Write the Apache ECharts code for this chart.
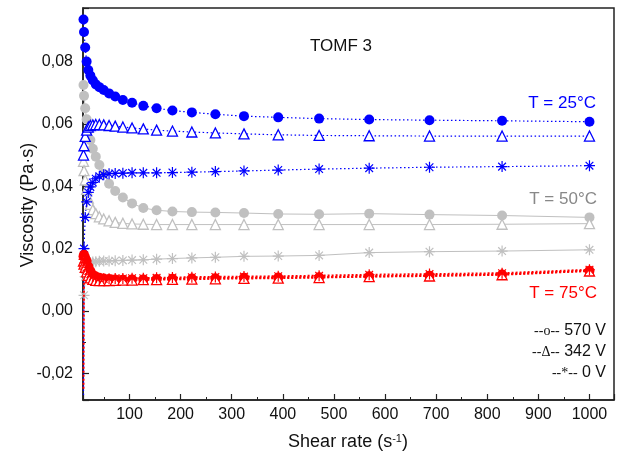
<!DOCTYPE html>
<html>
<head>
<meta charset="utf-8">
<script src="https://cdn.jsdelivr.net/npm/echarts@6/dist/echarts.min.js"></script>
<style>
  html, body { margin: 0; padding: 0; background: #fff; }
  #chart { width: 625px; height: 459px; }
</style>
</head>
<body>
<div id="chart"></div>
<script>
// shear rate (s-1), shared by every curve
const shearRate = [10, 11, 13.3, 16.1, 19.4, 23.4, 28.2, 34, 41, 49.5, 60, 72, 87, 105, 127, 153, 184, 222, 268, 324, 391, 471, 569, 687, 829, 1000];

// T = 25 °C
const blue570 = [0.0935, 0.0895, 0.0845, 0.0800, 0.0773, 0.0755, 0.0740, 0.0727, 0.0718, 0.0709, 0.0698, 0.0688, 0.0677, 0.0668, 0.0658, 0.0650, 0.0643, 0.0637, 0.0631, 0.0625, 0.0621, 0.0617, 0.0614, 0.0612, 0.0610, 0.0607];
const blue342 = [0.0500, 0.0530, 0.0560, 0.0580, 0.0590, 0.0595, 0.0597, 0.0598, 0.0598, 0.0597, 0.0595, 0.0593, 0.0590, 0.0587, 0.0584, 0.0580, 0.0577, 0.0574, 0.0571, 0.0568, 0.0565, 0.0563, 0.0562, 0.0561, 0.0561, 0.0561];
const blue0 = [-0.0270, 0.0200, 0.0300, 0.0350, 0.0380, 0.0398, 0.0412, 0.0424, 0.0432, 0.0437, 0.0440, 0.0441, 0.0442, 0.0443, 0.0443, 0.0443, 0.0444, 0.0445, 0.0447, 0.0449, 0.0452, 0.0455, 0.0458, 0.0461, 0.0463, 0.0466];

// T = 50 °C
const gray570 = [0.0725, 0.0690, 0.0650, 0.0615, 0.0580, 0.0548, 0.0520, 0.0495, 0.0468, 0.0440, 0.0408, 0.0385, 0.0364, 0.0345, 0.0330, 0.0323, 0.0319, 0.0317, 0.0316, 0.0314, 0.0311, 0.0310, 0.0312, 0.0309, 0.0306, 0.0300];
const gray342 = [0.0480, 0.0450, 0.0420, 0.0390, 0.0362, 0.0342, 0.0325, 0.0312, 0.0302, 0.0295, 0.0289, 0.0284, 0.0281, 0.0279, 0.0278, 0.0277, 0.0277, 0.0277, 0.0277, 0.0277, 0.0277, 0.0277, 0.0277, 0.0277, 0.0278, 0.0280];
const gray0 = [-0.0080, 0.0050, 0.0110, 0.0140, 0.0150, 0.0155, 0.0157, 0.0158, 0.0159, 0.0160, 0.0160, 0.0161, 0.0162, 0.0163, 0.0164, 0.0166, 0.0168, 0.0170, 0.0172, 0.0175, 0.0176, 0.0178, 0.0187, 0.0190, 0.0192, 0.0196];

// T = 75 °C
const red570 = [0.0175, 0.0180, 0.0170, 0.0160, 0.0142, 0.0128, 0.0116, 0.0110, 0.0106, 0.0104, 0.0102, 0.0101, 0.0100, 0.0101, 0.0101, 0.0102, 0.0103, 0.0104, 0.0105, 0.0106, 0.0107, 0.0108, 0.0111, 0.0113, 0.0117, 0.0129];
const red342 = [0.0160, 0.0150, 0.0140, 0.0125, 0.0114, 0.0106, 0.0101, 0.0098, 0.0097, 0.0097, 0.0097, 0.0098, 0.0099, 0.0099, 0.0100, 0.0100, 0.0101, 0.0102, 0.0103, 0.0104, 0.0105, 0.0107, 0.0110, 0.0112, 0.0116, 0.0128];
const red0 = [-0.0250, 0.0165, 0.0155, 0.0140, 0.0128, 0.0118, 0.0110, 0.0106, 0.0104, 0.0103, 0.0103, 0.0104, 0.0104, 0.0105, 0.0105, 0.0106, 0.0107, 0.0108, 0.0109, 0.0110, 0.0111, 0.0113, 0.0116, 0.0118, 0.0121, 0.0132];

const BLUE = '#0000ff';
const GRAY = '#c0c0c0';
const RED = '#ff0000';
const FONT = 'Arial, "Liberation Sans", sans-serif';
const ASTERISK = 'path://M5,0L5,10M0,5L10,5M1.5,1.5L8.5,8.5M1.5,8.5L8.5,1.5';

function makeSeries(values, color, kind, line) {
  const size = kind === 'asterisk' ? 11 : 10;
  const s = {
    type: 'line',
    data: shearRate.map((x, i) => [x, values[i]]),
    showAllSymbol: true,
    animation: false,
    // the first low-shear readings only show up as a trace along the axis
    symbolSize: (v) => (v[1] < 0 ? 0 : size),
    lineStyle: { color: color, width: line.width, type: line.type },
    z: line.z || 2,
  };
  if (kind === 'circle') {
    s.symbol = 'circle';
    s.itemStyle = { color: color, borderWidth: 0 };
  } else if (kind === 'triangle') {
    s.symbol = 'triangle';
    s.itemStyle = { color: '#fff', borderColor: color, borderWidth: 1.3 };
  } else {
    s.symbol = ASTERISK;
    s.itemStyle = { color: color, borderColor: color, borderWidth: 1.2 };
  }
  return s;
}

const dotted = { width: 1.2, type: [1.5, 2.5] };
const solid = { width: 1, type: 'solid' };
const redDot = { width: 2, type: [2, 2], z: 3 };

const chart = echarts.init(document.getElementById('chart'));
chart.setOption({
  backgroundColor: '#fff',
  animation: false,
  grid: {
    left: 83, right: 11, top: 8, bottom: 59,
    show: true, borderColor: '#222', borderWidth: 1.5,
  },
  xAxis: {
    type: 'value',
    min: 9,
    max: 1048,
    splitNumber: 10,
    axisLine: { show: true, onZero: false, lineStyle: { color: '#222', width: 1.5 } },
    axisTick: { inside: true, length: 6, lineStyle: { color: '#222', width: 1.2 } },
    minorTick: { show: true, splitNumber: 2, length: 3, lineStyle: { color: '#222', width: 1 } },
    splitLine: { show: false },
    axisLabel: {
      margin: 7, color: '#111', fontSize: 16, fontFamily: FONT,
      showMinLabel: false, showMaxLabel: false,
      formatter: (v) => String(v),
    },
  },
  yAxis: {
    type: 'value',
    min: -0.0286,
    max: 0.0972,
    splitNumber: 6,
    axisLine: { show: true, onZero: false, lineStyle: { color: '#222', width: 1.5 } },
    axisTick: { inside: true, length: 6, lineStyle: { color: '#222', width: 1.2 } },
    minorTick: { show: true, splitNumber: 2, length: 3, lineStyle: { color: '#222', width: 1 } },
    splitLine: { show: false },
    axisLabel: {
      margin: 10, color: '#111', fontSize: 16, fontFamily: FONT,
      showMinLabel: false, showMaxLabel: false,
      formatter: (v) => v.toFixed(2).replace('.', ','),
    },
  },
  series: [
    makeSeries(gray570, GRAY, 'circle', solid),
    makeSeries(gray342, GRAY, 'triangle', solid),
    makeSeries(gray0, GRAY, 'asterisk', solid),
    makeSeries(blue570, BLUE, 'circle', dotted),
    makeSeries(blue342, BLUE, 'triangle', dotted),
    makeSeries(blue0, BLUE, 'asterisk', dotted),
    makeSeries(red570, RED, 'circle', redDot),
    makeSeries(red342, RED, 'triangle', redDot),
    makeSeries(red0, RED, 'asterisk', redDot),
  ],
  graphic: [
    {
      type: 'text', x: 341, y: 46,
      style: { text: 'TOMF 3', fill: '#111', font: '17px ' + FONT, align: 'center', verticalAlign: 'middle' },
    },
    {
      type: 'text', x: 596, y: 103,
      style: { text: 'T = 25°C', fill: BLUE, font: '17px ' + FONT, align: 'right', verticalAlign: 'middle' },
    },
    {
      type: 'text', x: 597, y: 199,
      style: { text: 'T = 50°C', fill: '#888', font: '17px ' + FONT, align: 'right', verticalAlign: 'middle' },
    },
    {
      type: 'text', x: 597, y: 293,
      style: { text: 'T = 75°C', fill: RED, font: '17px ' + FONT, align: 'right', verticalAlign: 'middle' },
    },
    {
      type: 'text', x: 606, y: 331,
      style: {
        text: '{s|--o--} 570 V', fill: '#111', font: '16px ' + FONT, align: 'right', verticalAlign: 'middle',
        rich: { s: { fontFamily: '"Liberation Serif", serif', fontSize: 14, fill: '#111' } },
      },
    },
    {
      type: 'text', x: 606, y: 352,
      style: {
        text: '{s|--Δ--} 342 V', fill: '#111', font: '16px ' + FONT, align: 'right', verticalAlign: 'middle',
        rich: { s: { fontFamily: '"Liberation Serif", serif', fontSize: 14, fill: '#111' } },
      },
    },
    {
      type: 'text', x: 606, y: 373,
      style: {
        text: '{s|--*--} 0 V', fill: '#111', font: '16px ' + FONT, align: 'right', verticalAlign: 'middle',
        rich: { s: { fontFamily: '"Liberation Serif", serif', fontSize: 14, fill: '#111' } },
      },
    },
    {
      type: 'text', x: 28, y: 205, rotation: Math.PI / 2,
      style: { text: 'Viscosity (Pa·s)', fill: '#111', font: '18px ' + FONT, align: 'center', verticalAlign: 'middle' },
    },
    {
      type: 'text', x: 348, y: 442,
      style: {
        text: '{a|Shear rate (s}{b|-1}{a|)}', fill: '#111', align: 'center', verticalAlign: 'middle',
        rich: {
          a: { fontSize: 18, fontFamily: FONT, fill: '#111' },
          b: { fontSize: 11, fontFamily: FONT, fill: '#111', verticalAlign: 'top' },
        },
      },
    },
  ],
});
</script>
</body>
</html>
